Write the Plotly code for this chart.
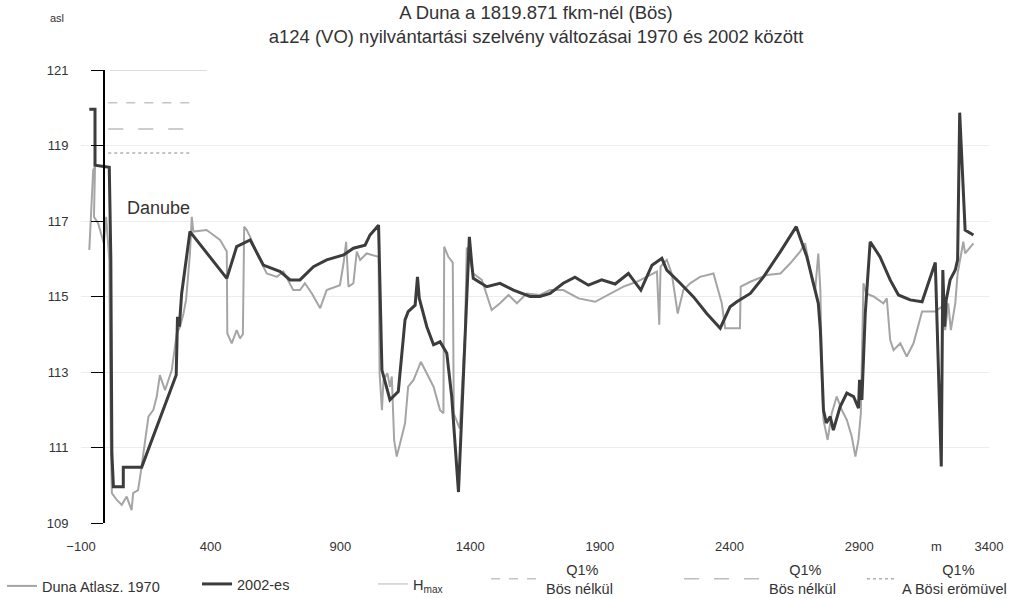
import plotly.graph_objects as go

# ---- data ----
x_2002 = [-68, -46, -46, 9, 15, 19, 25, 63, 63, 134, 267, 272, 279, 288, 320, 462, 500, 552, 603, 668,
          706, 744, 796, 847, 912, 950, 995, 1014, 1047, 1060, 1091, 1123, 1149, 1161, 1188, 1197, 1204,
          1233, 1259, 1284, 1310, 1329, 1355, 1374, 1397, 1406, 1412, 1464, 1515, 1567, 1631, 1669, 1708,
          1759, 1804, 1856, 1907, 1959, 2010, 2058, 2101, 2139, 2158, 2210, 2261, 2312, 2364, 2402, 2428,
          2480, 2531, 2596, 2657, 2698, 2742, 2750, 2762, 2773, 2788, 2800, 2826, 2852, 2878, 2897, 2901,
          2910, 2923, 2942, 2980, 3019, 3051, 3096, 3142, 3193, 3216, 3222, 3229, 3235, 3250, 3270, 3279,
          3287, 3308, 3340]
y_2002 = [119.96, 119.96, 118.48, 118.42, 116.0, 110.85, 109.96, 109.96, 110.48, 110.48, 112.92, 114.46,
          114.2, 115.08, 116.72, 115.48, 116.32, 116.5, 115.83, 115.66, 115.44, 115.44, 115.79, 115.97,
          116.1, 116.28, 116.36, 116.63, 116.89, 113.05, 112.26, 112.48, 114.38, 114.6, 114.77, 115.52,
          114.95, 114.2, 113.72, 113.8, 113.5, 112.35, 109.82, 112.79, 116.58, 115.88, 115.48, 115.26,
          115.35, 115.17, 115.0, 115.0, 115.08, 115.35, 115.51, 115.3, 115.44, 115.33, 115.61, 115.17,
          115.83, 116.01, 115.7, 115.35, 114.99, 114.55, 114.16, 114.73, 114.86, 115.08, 115.52, 116.19,
          116.85, 116.05, 114.82, 114.11, 111.99, 111.65, 111.82, 111.46, 112.08, 112.44, 112.35, 112.04,
          112.79, 112.26, 114.55, 116.45, 116.05, 115.44, 115.04, 114.91, 114.86, 115.9, 110.5, 115.7,
          114.2, 114.9, 115.44, 115.7, 115.97, 119.87, 116.76, 116.63]

x_1970 = [-68, -59, -53, -46, -50, -34, -12, -3, 9, 15, 19, 38, 57, 76, 95, 101, 120, 130, 147, 160, 179,
          192, 204, 224, 250, 269, 282, 295, 305, 320, 327, 333, 384, 436, 462, 464, 481, 500, 513, 524,
          529, 539, 552, 584, 616, 655, 680, 718, 744, 763, 790, 822, 847, 898, 912, 922, 931, 950, 963,
          976, 1001, 1047, 1051, 1060, 1066, 1081, 1091, 1098, 1107, 1117, 1130, 1149, 1161, 1182, 1210,
          1233, 1259, 1284, 1297, 1300, 1316, 1333, 1337, 1360, 1380, 1387, 1412, 1445, 1483, 1515, 1548,
          1580, 1618, 1669, 1708, 1759, 1818, 1882, 1933, 1991, 2042, 2101, 2120, 2129, 2134, 2158, 2177,
          2200, 2222, 2248, 2286, 2338, 2370, 2383, 2440, 2443, 2480, 2544, 2596, 2634, 2672, 2691, 2718,
          2730, 2742, 2750, 2756, 2762, 2778, 2794, 2813, 2833, 2852, 2871, 2885, 2897, 2906, 2916, 2927,
          2955, 2993, 3006, 3019, 3032, 3058, 3083, 3109, 3142, 3193, 3218, 3231, 3243, 3253, 3270, 3279,
          3301, 3308, 3340]
y_1970 = [116.23, 117.56, 118.35, 118.44, 117.11, 116.94, 116.41, 117.11, 115.97, 111.11, 109.79, 109.61,
          109.48, 109.7, 109.34, 109.79, 109.87, 110.32, 111.2, 111.82, 112.0, 112.35, 112.92, 112.52,
          113.05, 114.02, 114.2, 114.55, 114.91, 116.14, 117.11, 116.72, 116.76, 116.5, 116.19, 114.02,
          113.76, 114.11, 113.89, 114.0, 116.85, 116.76, 116.58, 116.05, 115.61, 115.52, 115.66, 115.17,
          115.17, 115.35, 115.08, 114.69, 115.17, 115.3, 115.88, 116.45, 115.26, 115.35, 116.19, 115.97,
          116.14, 116.05, 112.97, 111.99, 112.79, 112.97, 112.61, 112.88, 111.2, 110.76, 111.11, 111.64,
          112.61, 112.79, 113.27, 112.97, 112.61, 111.99, 111.91, 116.32, 116.05, 115.9, 111.9, 111.5,
          114.0, 116.3, 115.61, 115.44, 114.64, 114.82, 115.04, 114.82, 115.08, 115.04, 115.17, 115.17,
          114.95, 114.86, 115.04, 115.26, 115.39, 115.61, 115.66, 114.25, 115.79, 115.97, 115.61, 114.55,
          115.17, 115.35, 115.52, 115.61, 114.82, 114.16, 114.16, 115.26, 115.39, 115.57, 115.61, 115.88,
          116.19, 116.41, 115.44, 115.17, 116.14, 115.17, 112.79, 111.73, 111.2, 111.91, 112.35, 111.99,
          111.73, 111.29, 110.76, 111.2, 111.91, 115.35, 115.08, 115.0, 114.82, 114.95, 113.85, 113.58,
          113.76, 113.41, 113.76, 114.6, 114.6, 114.73, 114.11, 114.82, 114.11, 114.82, 115.61, 116.45,
          116.14, 116.41]

x_hmax = [12, 385]
y_hmax = [121.0, 121.0]
x_q1_a = [5, 320]
y_q1_a = [120.13, 120.13]
x_q1_b = [5, 320]
y_q1_b = [119.44, 119.44]
x_q1_c = [5, 320]
y_q1_c = [118.80, 118.80]

x_ticks = [-100, 400, 900, 1400, 1900, 2400, 2900, 3400]
y_ticks = [109, 111, 113, 115, 117, 119, 121]

FONT = "Liberation Sans, Arial, sans-serif"
W, H = 1009, 598
ml, mr, mt, mb = 81, 20, 70, 75
pw = W - ml - mr
ph = H - mt - mb

fig = go.Figure()
fig.add_trace(go.Scatter(x=x_hmax, y=y_hmax, mode="lines", name="H<sub>max</sub>",
                         line=dict(color="#cfcfcf", width=1.5), legend="legend3"))
fig.add_trace(go.Scatter(x=x_q1_a, y=y_q1_a, mode="lines",
                         name="\u00a0\u00a0\u00a0\u00a0\u00a0Q1%<br>Bös nélkül",
                         line=dict(color="#c4c4c4", width=1.5, dash="dash"), legend="legend4"))
fig.add_trace(go.Scatter(x=x_q1_b, y=y_q1_b, mode="lines",
                         name="\u00a0\u00a0\u00a0\u00a0\u00a0Q1%<br>Bös nélkül",
                         line=dict(color="#bdbdbd", width=1.5, dash="longdash"), legend="legend5"))
fig.add_trace(go.Scatter(x=x_q1_c, y=y_q1_c, mode="lines",
                         name="\u00a0\u00a0\u00a0\u00a0\u00a0\u00a0\u00a0\u00a0\u00a0\u00a0Q1%<br>A Bösi erömüvel",
                         line=dict(color="#b0b0b0", width=1.5, dash="dot"), legend="legend6"))
fig.add_trace(go.Scatter(x=x_1970, y=y_1970, mode="lines", name="Duna Atlasz. 1970",
                         line=dict(color="#a5a5a5", width=2), legend="legend"))
fig.add_trace(go.Scatter(x=x_2002, y=y_2002, mode="lines", name="2002-es",
                         line=dict(color="#3c3c3c", width=3), legend="legend2"))


def leg(px_left, py_center, itemwidth=30):
    return dict(x=px_left / W, y=(H - py_center) / H, xref="container", yref="container",
                xanchor="left", yanchor="middle", bgcolor="rgba(0,0,0,0)", itemwidth=itemwidth,
                font=dict(family=FONT, size=14.5, color="#333333"))


def px2paper(px, py):
    return (px - ml) / pw, (H - mb - py) / ph


asl_x, asl_y = px2paper(57, 18)
m_x, m_y = px2paper(936, 546)

fig.update_layout(
    width=W, height=H,
    margin=dict(l=ml, r=mr, t=mt, b=mb, autoexpand=False),
    paper_bgcolor="white", plot_bgcolor="white",
    font=dict(family=FONT, size=13, color="#333333"),
    title=dict(text="A Duna a 1819.871 fkm-nél (Bös)<br>a124 (VO) nyilvántartási szelvény változásai 1970 és 2002 között",
               x=536 / W, xanchor="center", xref="container", y=1 - 18.5 / H, yanchor="middle", yref="container",
               font=dict(family=FONT, size=18.5, color="#333333")),
    xaxis=dict(range=[-100, 3400], tickvals=x_ticks, showgrid=False, zeroline=False, showline=False,
               ticks="", ticklabelstandoff=14, tickfont=dict(size=13, color="#333333"), domain=[0, 1],
               automargin=False),
    yaxis=dict(range=[109, 121], tickvals=y_ticks, anchor="free", position=23 / pw,
               showline=True, linecolor="#000000", linewidth=2, ticks="outside", ticklen=12,
               tickcolor="#000000", tickwidth=1, ticklabelstandoff=20, automargin=False,
               showgrid=True, gridcolor="#ededed", gridwidth=1, zeroline=False,
               tickfont=dict(size=13, color="#333333")),
    showlegend=True,
    legend=leg(2, 586),
    legend2=leg(197, 584),
    legend3=leg(373, 584),
    legend4=leg(486, 579, 50),
    legend5=leg(679, 579, 80),
    legend6=leg(862, 579),
    annotations=[
        dict(text="asl", x=asl_x, y=asl_y, xref="paper", yref="paper", showarrow=False,
             font=dict(family=FONT, size=11, color="#333333"), xanchor="center", yanchor="middle"),
        dict(text="m", x=m_x, y=m_y, xref="paper", yref="paper", showarrow=False,
             font=dict(family=FONT, size=13, color="#333333"), xanchor="center", yanchor="middle"),
        dict(text="Danube", x=197, y=117.35, xref="x", yref="y", showarrow=False,
             font=dict(family=FONT, size=18, color="#333333"), xanchor="center", yanchor="middle"),
    ],
)

fig.write_html("out.html")
